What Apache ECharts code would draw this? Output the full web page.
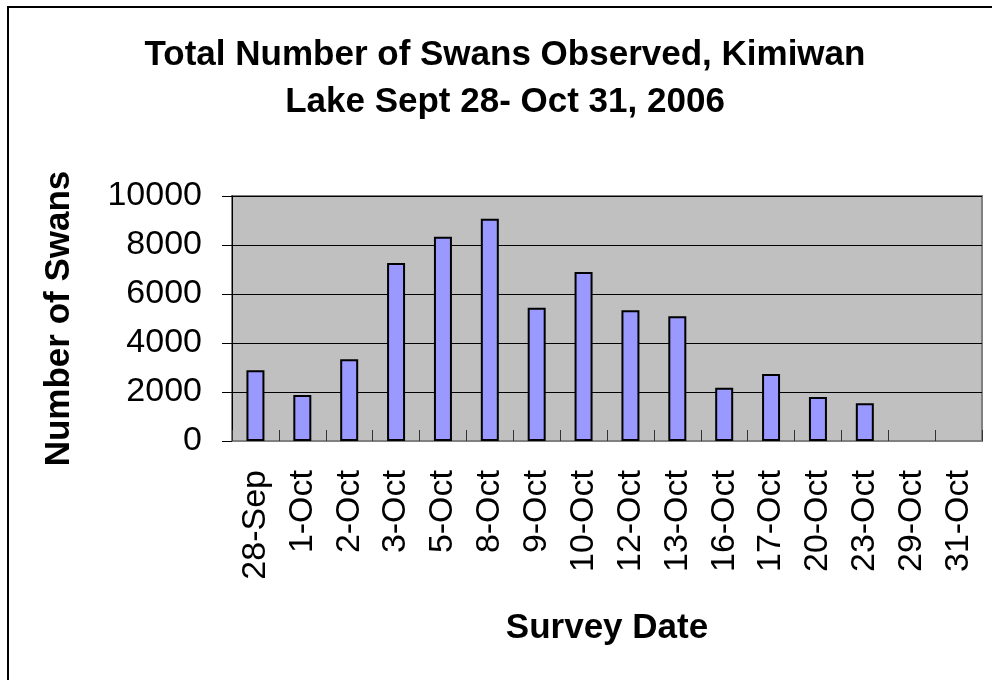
<!DOCTYPE html>
<html><head><meta charset="utf-8">
<script src="https://cdn.jsdelivr.net/npm/echarts@6/dist/echarts.min.js"></script>
<style>html,body{margin:0;padding:0;background:#fff}#c{width:992px;height:680px}</style>
</head><body><div id="c"></div>
<script>
const categories = ['28-Sep','1-Oct','2-Oct','3-Oct','5-Oct','8-Oct','9-Oct','10-Oct','12-Oct','13-Oct','16-Oct','17-Oct','20-Oct','23-Oct','29-Oct','31-Oct'];
const swans = [2890,1880,3340,7270,8340,9070,5440,6900,5340,5090,2170,2730,1800,1540,0,0];
const yTicks = [0,2000,4000,6000,8000,10000];

const chart = echarts.init(document.getElementById('c'), null, {renderer:'canvas'});
const FONT = 'Liberation Sans, Arial, sans-serif';
chart.setOption({
  animation:false,
  backgroundColor:'#fff',
  title:{
    text:'Total Number of Swans Observed, Kimiwan\nLake Sept 28- Oct 31, 2006',
    left:500, top:27, textAlign:'center',
    textStyle:{fontFamily:FONT,fontSize:35,fontWeight:'bold',color:'#000',lineHeight:47}
  },
  graphic:[{type:'rect',shape:{x:8,y:7,width:1000,height:700},style:{fill:'none',stroke:'#000',lineWidth:2},silent:true}],
  grid:{left:232,right:10,top:196,bottom:239,show:true,backgroundColor:'#c0c0c0',borderColor:'#808080',borderWidth:2,containLabel:false},
  xAxis:{
    type:'category',data:categories,
    name:'Survey Date',nameLocation:'middle',nameGap:187,
    nameTextStyle:{fontFamily:FONT,fontSize:35,fontWeight:'bold',color:'#000',verticalAlign:'middle'},
    axisLine:{show:true,lineStyle:{color:'#808080',width:2}},
    axisTick:{show:true,inside:true,length:11,alignWithLabel:false,lineStyle:{color:'#333',width:1}},
    axisLabel:{rotate:90,fontFamily:FONT,fontSize:34,color:'#000',margin:29,interval:0}
  },
  yAxis:{
    type:'value',min:0,max:10000,interval:2000,
    name:'Number of Swans',nameLocation:'middle',nameGap:155,
    nameTextStyle:{fontFamily:FONT,fontSize:35,fontWeight:'bold',color:'#000'},
    axisLine:{show:true,lineStyle:{color:'#000',width:1}},
    axisTick:{show:true,inside:false,length:10,lineStyle:{color:'#000',width:1}},
    axisLabel:{fontFamily:FONT,fontSize:34,color:'#000',margin:30,
      formatter:function(v){return yTicks.indexOf(v)>=0?String(v):'';}},
    splitLine:{show:true,lineStyle:{color:'#000',width:1}}
  },
  series:[{
    type:'bar',barWidth:18,
    data:swans.map(function(v){return v>0?v:{value:v,itemStyle:{borderWidth:0}};}),
    itemStyle:{color:'#9999ff',borderColor:'#000',borderWidth:2}
  }]
});
</script></body></html>
